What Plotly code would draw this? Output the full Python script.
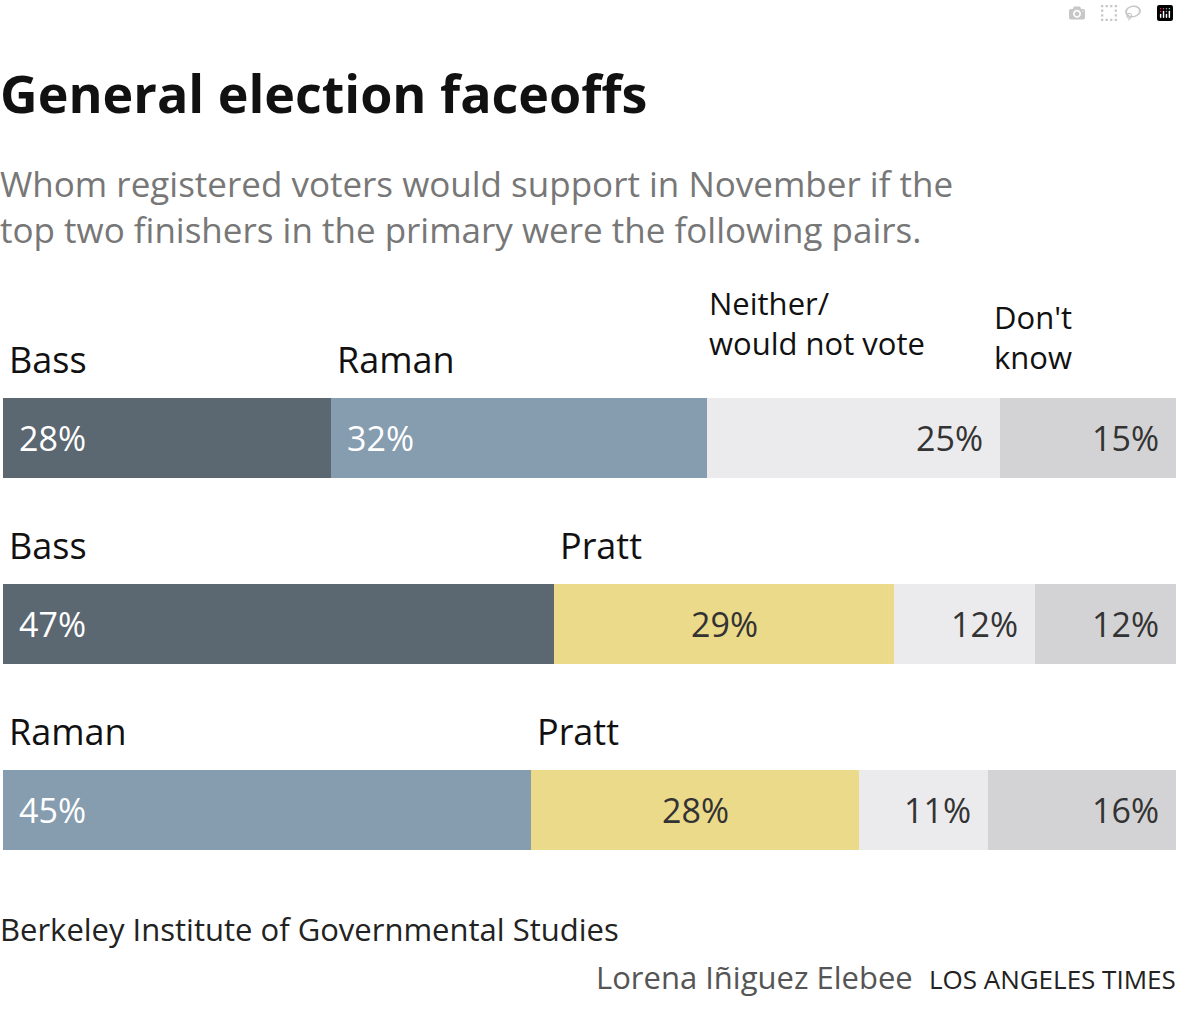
import plotly.graph_objects as go

# rows top to bottom
left_names = ["Bass", "Bass", "Raman"]
right_names = ["Raman", "Pratt", "Pratt"]
left_vals = [28, 47, 45]
right_vals = [32, 29, 28]
neither_vals = [25, 12, 11]
dontknow_vals = [15, 12, 16]

COLORS = {"Bass": "#5b6771", "Raman": "#869caf", "Pratt": "#ecda8b"}
NEITHER_C = "#ebebed"
DK_C = "#d3d3d5"

ROW_Y = [438, 624, 810]
BAR_H = 80
FONT = "Open Sans"

fig = go.Figure()
ann = []

for i, y in enumerate(ROW_Y):
    segs = [
        (left_vals[i], COLORS[left_names[i]], "left", "white"),
        (right_vals[i], COLORS[right_names[i]],
         "left" if right_names[i] == "Raman" else "center",
         "white" if right_names[i] == "Raman" else "#333"),
        (neither_vals[i], NEITHER_C, "right", "#333"),
        (dontknow_vals[i], DK_C, "right", "#333"),
    ]
    base = 0
    for v, c, align, tc in segs:
        fig.add_trace(go.Bar(
            x=[v], y=[y], base=[base], orientation="h", width=BAR_H,
            marker=dict(color=c, line=dict(width=0)), showlegend=False,
            hoverinfo="skip",
        ))
        if align == "left":
            ax, shift, xa = base, 14, "left"
        elif align == "right":
            ax, shift, xa = base + v, -15, "right"
        else:
            ax, shift, xa = base + v / 2, 0, "center"
        ann.append(dict(x=ax, y=y, xref="x", yref="y", text=f"{v}%",
                        showarrow=False, xanchor=xa, xshift=shift,
                        font=dict(size=34, color=tc, family=FONT)))
        base += v
    # candidate names
    ann.append(dict(x=0, y=y - BAR_H / 2 - 12, xref="x", yref="y",
                    text=left_names[i], showarrow=False, xanchor="left",
                    yanchor="bottom", xshift=4,
                    font=dict(size=36, color="#111", family=FONT)))
    ann.append(dict(x=left_vals[i], y=y - BAR_H / 2 - 12, xref="x", yref="y",
                    text=right_names[i], showarrow=False, xanchor="left",
                    yanchor="bottom", xshift=4,
                    font=dict(size=36, color="#111", family=FONT)))

top = ROW_Y[0] - BAR_H / 2
ann.append(dict(x=left_vals[0] + right_vals[0], y=top - 32, xref="x", yref="y",
                text="Neither/<br>would not vote", showarrow=False, xanchor="left",
                yanchor="bottom", align="left",
                font=dict(size=31, color="#111", family=FONT)))
ann.append(dict(x=left_vals[0] + right_vals[0] + neither_vals[0], y=top - 18,
                xref="x", yref="y", text="Don't<br>know", showarrow=False,
                xanchor="left", yanchor="bottom", align="left", xshift=-8,
                font=dict(size=31, color="#111", family=FONT)))

ann += [
    dict(x=0, y=92, xref="paper", yref="y", xshift=-5, text="<b>General election faceoffs</b>",
         showarrow=False, xanchor="left", yanchor="middle",
         font=dict(size=52, color="#111", family=FONT)),
    dict(x=0, y=206, xref="paper", yref="y", xshift=-5, align="left",
         text="Whom registered voters would support in November if the<br>"
              "top two finishers in the primary were the following pairs.",
         showarrow=False, xanchor="left", yanchor="middle",
         font=dict(size=35, color="#777", family=FONT)),
    dict(x=0, y=929, xref="paper", yref="y", xshift=-5,
         text="Berkeley Institute of Governmental Studies",
         showarrow=False, xanchor="left", yanchor="middle",
         font=dict(size=31, color="#222", family=FONT)),
    dict(x=1, y=977, xref="paper", yref="y", xshift=2,
         text="<span style='color:#555'>Lorena Iñiguez Elebee</span>  "
              "<span style='font-size:26px'>LOS ANGELES TIMES</span>",
         showarrow=False, xanchor="right", yanchor="middle",
         font=dict(size=31, color="#222", family=FONT)),
]

fig.update_layout(
    width=1179, height=1032, barmode="overlay",
    margin=dict(l=3, r=3, t=0, b=0),
    plot_bgcolor="white", paper_bgcolor="white",
    xaxis=dict(range=[0, 100], visible=False, fixedrange=True),
    yaxis=dict(range=[1032, 0], visible=False, fixedrange=True),
    annotations=ann, bargap=0,
)

fig.write_html("out.html",
               post_script="document.body.style.margin='0';document.body.style.overflow='hidden';")
